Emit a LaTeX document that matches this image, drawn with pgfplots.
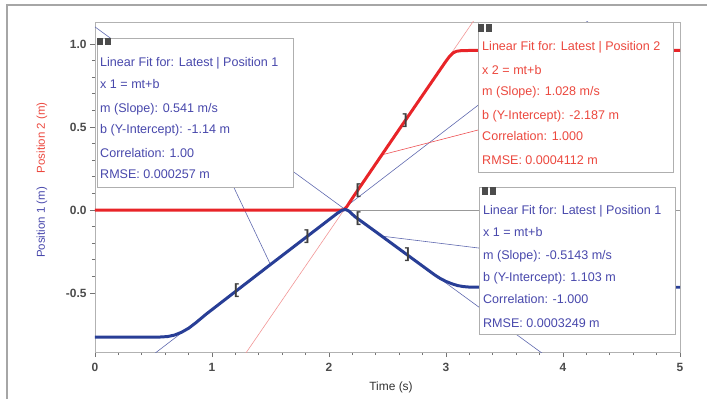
\documentclass[border=0pt]{standalone}
\usepackage{pgfplots}
\pgfplotsset{compat=1.18}
\usepackage{fontspec}
\setmainfont{Liberation Sans}
\definecolor{curveblue}{RGB}{40,62,150}
\definecolor{curvered}{RGB}{232,36,40}
\definecolor{fitblue}{RGB}{95,105,175}
\definecolor{fitred}{RGB}{242,150,150}
\definecolor{textblue}{RGB}{72,72,172}
\definecolor{textred}{RGB}{236,72,62}
\definecolor{boxgray}{RGB}{175,175,175}
\begin{document}
\begin{tikzpicture}
\begin{axis}[
  scale only axis, width=585bp, height=330bp,
  xmin=0, xmax=5, ymin=-0.855, ymax=1.1325,
  xtick={0,1,2,3,4,5}, xticklabels={0,1,2,3,4,5},
  ytick={-0.5,0,0.5,1}, yticklabels={-0.5,0.0,0.5,1.0},
  minor x tick num=4, minor y tick num=4,
  tick align=outside, tick pos=left,
  major tick length=5bp, minor tick length=3bp,
  tick style={black!55, line width=0.8pt},
  axis line style={draw=black!30, line width=0.9pt},
  ticklabel style={font=\bfseries\fontsize{12}{12}\selectfont, text=black!70},
  xticklabel style={yshift=-3bp},
  /pgf/number format/assume math mode=true,
  xlabel={Time (s)},
  xlabel style={font=\fontsize{12}{12}\selectfont, text=black!80, at={(axis description cs:0.506,-0.106)}, anchor=center},
  ylabel={\textcolor{textblue}{Position 1 (m)}\hspace{14bp}\textcolor{textred}{Position 2 (m)}},
  ylabel style={font=\fontsize{11.5}{11.5}\selectfont, at={(axis description cs:-0.0906,0.521)}, anchor=center, rotate=0},
  clip=true,
]
% zero line
\addplot[black!40, line width=0.8pt] coordinates {(0,0) (5,0)};
% fit lines
\addplot[fitblue, line width=0.6pt] coordinates {(0,-1.14) (5,1.565)};
\addplot[fitblue, line width=0.6pt] coordinates {(0,1.103) (5,-1.4685)};
\addplot[fitred, line width=0.6pt] coordinates {(1.0,-1.159) (3.5,1.411)};
% connectors
\addplot[fitblue, line width=0.6pt] coordinates {(1.5,-0.3285) (1.185,0.139)};
\addplot[curvered!80, line width=0.6pt] coordinates {(2.45,0.332) (3.274,0.482)};
\addplot[fitblue, line width=0.6pt] coordinates {(2.45,-0.157) (3.282,-0.229)};
% Position 2 (red)
\addplot[curvered, line width=3pt, line join=round] coordinates {
(0,0) (2.10,0) (2.125,0.002) (2.15,0.018) (2.2,0.072) (2.6,0.486) (3.0,0.897)
(3.03,0.925) (3.06,0.946) (3.09,0.956) (3.13,0.960) (3.2,0.961) (5,0.961)};
% Position 1 (blue)
\addplot[curveblue, line width=3pt, line join=round] coordinates {
(0,-0.765) (0.55,-0.765) (0.62,-0.762) (0.68,-0.753) (0.74,-0.736) (0.80,-0.712)
(0.86,-0.680) (0.95,-0.627) (1.2,-0.491) (1.5,-0.328) (1.8,-0.166) (2.0,-0.058)
(2.07,-0.020) (2.11,-0.002) (2.14,0.004) (2.17,-0.006) (2.22,-0.039) (2.4,-0.131)
(2.7,-0.286) (2.9,-0.389) (2.95,-0.412) (3.0,-0.430) (3.05,-0.444) (3.1,-0.455)
(3.15,-0.461) (3.2,-0.464) (3.3,-0.465) (5,-0.465)};
% range brackets
\addplot[only marks, mark=text, text mark={\textcolor{black!75}{\bfseries\fontsize{15}{15}\selectfont [}}]
  coordinates {(1.21,-0.485) (2.25,0.115) (2.25,-0.052)};
\addplot[only marks, mark=text, text mark={\textcolor{black!75}{\bfseries\fontsize{15}{15}\selectfont ]}}]
  coordinates {(1.81,-0.163) (2.65,0.537) (2.67,-0.270)};
% boxes
\draw[boxgray, fill=white, line width=0.9pt] (axis cs:0.017,1.036) rectangle (axis cs:1.692,0.139);
\draw[boxgray, fill=white, line width=0.9pt] (axis cs:3.274,1.1325) rectangle (axis cs:4.940,0.229);
\draw[boxgray, fill=white, line width=0.9pt] (axis cs:3.282,0.139) rectangle (axis cs:4.957,-0.747);
% icons
\fill[black!70] (axis cs:0.017,1.036) rectangle (axis cs:0.068,0.994);
\fill[black!70] (axis cs:0.085,1.036) rectangle (axis cs:0.137,0.994);
\fill[black!70] (axis cs:3.274,1.120) rectangle (axis cs:3.325,1.072);
\fill[black!70] (axis cs:3.342,1.120) rectangle (axis cs:3.393,1.072);
\fill[black!70] (axis cs:3.308,0.139) rectangle (axis cs:3.359,0.090);
\fill[black!70] (axis cs:3.376,0.139) rectangle (axis cs:3.427,0.090);
% box texts
\begin{scope}[every node/.style={anchor=base west, inner sep=0pt, font=\fontsize{12.6}{12.6}\selectfont}]
\node[text=textblue] at (axis cs:0.043,0.867) {Linear Fit for: Latest | Position 1};
\node[text=textblue] at (axis cs:0.043,0.729) {x 1 = mt+b};
\node[text=textblue] at (axis cs:0.043,0.590) {m (Slope): 0.541 m/s};
\node[text=textblue] at (axis cs:0.043,0.458) {b (Y-Intercept): -1.14 m};
\node[text=textblue] at (axis cs:0.043,0.319) {Correlation: 1.00};
\node[text=textblue] at (axis cs:0.043,0.187) {RMSE: 0.000257 m};
\node[text=textred] at (axis cs:3.308,0.958) {Linear Fit for: Latest | Position 2};
\node[text=textred] at (axis cs:3.308,0.819) {x 2 = mt+b};
\node[text=textred] at (axis cs:3.308,0.687) {m (Slope): 1.028 m/s};
\node[text=textred] at (axis cs:3.308,0.548) {b (Y-Intercept): -2.187 m};
\node[text=textred] at (axis cs:3.308,0.416) {Correlation: 1.000};
\node[text=textred] at (axis cs:3.308,0.277) {RMSE: 0.0004112 m};
\node[text=textblue] at (axis cs:3.316,-0.024) {Linear Fit for: Latest | Position 1};
\node[text=textblue] at (axis cs:3.316,-0.157) {x 1 = mt+b};
\node[text=textblue] at (axis cs:3.316,-0.295) {m (Slope): -0.5143 m/s};
\node[text=textblue] at (axis cs:3.316,-0.428) {b (Y-Intercept): 1.103 m};
\node[text=textblue] at (axis cs:3.316,-0.560) {Correlation: -1.000};
\node[text=textblue] at (axis cs:3.316,-0.705) {RMSE: 0.0003249 m};
\end{scope}
\coordinate (bbsw) at (axis description cs:-0.16239,-0.14242);
\coordinate (bbne) at (axis description cs:1.04615,1.06667);
\coordinate (frtl) at (axis description cs:-0.1504,1.0515);
\coordinate (frtr) at (axis description cs:1.04615,1.0515);
\coordinate (frbl) at (axis description cs:-0.1504,-0.14242);
\end{axis}
\draw[black!35, line width=1.3pt] (frbl) -- (frtl) -- (frtr);
\pgfresetboundingbox
\path[use as bounding box] (bbsw) rectangle (bbne);
\end{tikzpicture}
\end{document}
